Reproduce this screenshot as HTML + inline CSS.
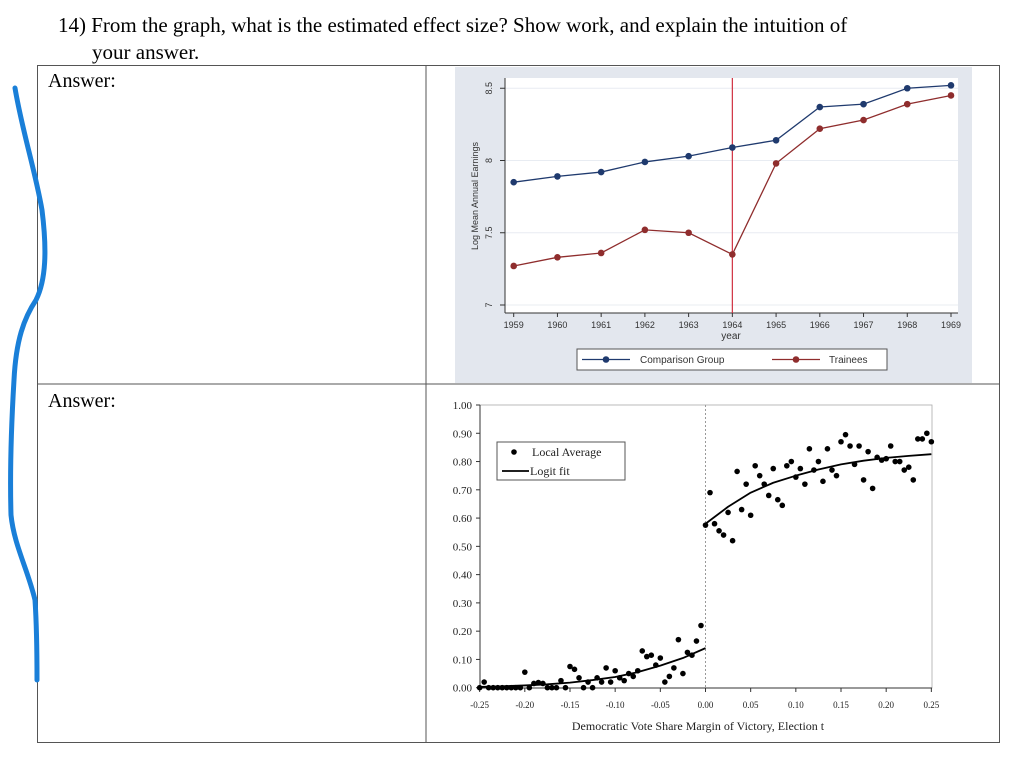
<!DOCTYPE html>
<html><head><meta charset="utf-8"><style>
body{margin:0;background:#fff;width:1024px;height:761px;overflow:hidden;font-family:"Liberation Serif",serif}
svg{position:absolute;left:0;top:0}
</style></head><body>
<svg width="1024" height="761" xmlns="http://www.w3.org/2000/svg">
<text x="58" y="32" font-size="21" font-family="Liberation Serif">14) From the graph, what is the estimated effect size? Show work, and explain the intuition of</text>
<text x="92" y="59" font-size="21" font-family="Liberation Serif">your answer.</text>
<g stroke="#555" stroke-width="1" fill="none">
<rect x="37.5" y="65.5" width="962" height="677"/>
<line x1="426" y1="65" x2="426" y2="743"/>
<line x1="37" y1="384" x2="1000" y2="384"/>
</g>
<text x="48" y="87" font-size="20">Answer:</text>
<text x="48" y="407" font-size="20">Answer:</text>
<path d="M15,88 C22,130 35,170 42,210 C47,250 46,280 36,300 C24,318 16,340 14,380 C11,430 10,480 11,515 C14,545 28,570 35,600 C37,630 37,660 37,680" stroke="#1a7fd8" stroke-width="5" fill="none" stroke-linecap="round"/>
<rect x="455" y="67" width="517" height="316" fill="#e3e7ee"/>
<rect x="505" y="78" width="453" height="235" fill="#fff"/>
<g id="top" font-family="Liberation Sans"></g>
<g id="bot" font-family="Liberation Serif"></g>
</svg>
<script>
const years=[1959,1960,1961,1962,1963,1964,1965,1966,1967,1968,1969];
const comparison=[7.85,7.89,7.92,7.99,8.03,8.09,8.14,8.37,8.39,8.50,8.52];
const trainees=[7.27,7.33,7.36,7.52,7.50,7.35,7.98,8.22,8.28,8.39,8.45];
const topTicks=[7,7.5,8,8.5];
const topTickLabels=["7","7.5","8","8.5"];

const lvX=[-0.25,-0.245,-0.24,-0.235,-0.23,-0.225,-0.22,-0.215,-0.21,-0.205,-0.2,-0.195,-0.19,-0.185,-0.18,-0.175,-0.17,-0.165,-0.16,-0.155,-0.15,-0.145,-0.14,-0.135,-0.13,-0.125,-0.12,-0.115,-0.11,-0.105,-0.1,-0.095,-0.09,-0.085,-0.08,-0.075,-0.07,-0.065,-0.06,-0.055,-0.05,-0.045,-0.04,-0.035,-0.03,-0.025,-0.02,-0.015,-0.01,-0.005,0,0.005,0.01,0.015,0.02,0.025,0.03,0.035,0.04,0.045,0.05,0.055,0.06,0.065,0.07,0.075,0.08,0.085,0.09,0.095,0.1,0.105,0.11,0.115,0.12,0.125,0.13,0.135,0.14,0.145,0.15,0.155,0.16,0.165,0.17,0.175,0.18,0.185,0.19,0.195,0.2,0.205,0.21,0.215,0.22,0.225,0.23,0.235,0.24,0.245,0.25];
const lvY=[0,0.02,0,0,0,0,0,0,0,0,0.055,0,0.015,0.018,0.015,0,0,0,0.025,0,0.075,0.065,0.035,0,0.02,0,0.035,0.02,0.07,0.02,0.06,0.035,0.025,0.05,0.04,0.06,0.13,0.11,0.115,0.08,0.105,0.02,0.04,0.07,0.17,0.05,0.125,0.115,0.165,0.22,0.575,0.69,0.58,0.555,0.54,0.62,0.52,0.765,0.63,0.72,0.61,0.785,0.75,0.72,0.68,0.775,0.665,0.645,0.785,0.8,0.745,0.775,0.72,0.845,0.77,0.8,0.73,0.845,0.77,0.75,0.87,0.895,0.855,0.79,0.855,0.735,0.835,0.705,0.815,0.805,0.81,0.855,0.8,0.8,0.77,0.78,0.735,0.88,0.88,0.9,0.87];
const fitLeftX=[-0.25,-0.225,-0.2,-0.175,-0.15,-0.125,-0.1,-0.075,-0.05,-0.025,0];
const fitLeftY=[0.003,0.005,0.008,0.012,0.018,0.027,0.038,0.055,0.078,0.105,0.14];
const fitRightX=[0,0.025,0.05,0.075,0.1,0.125,0.15,0.175,0.2,0.225,0.25];
const fitRightY=[0.58,0.64,0.69,0.725,0.75,0.772,0.79,0.803,0.813,0.82,0.826];
const botYTicks=[0,0.1,0.2,0.3,0.4,0.5,0.6,0.7,0.8,0.9,1.0];
const botXTicks=[-0.25,-0.2,-0.15,-0.1,-0.05,0,0.05,0.1,0.15,0.2,0.25];

const NS="http://www.w3.org/2000/svg";
function mk(parent,tag,attrs,text){const e=document.createElementNS(NS,tag);for(const k in attrs)e.setAttribute(k,attrs[k]);if(text!==undefined)e.textContent=text;parent.appendChild(e);return e;}

// top chart
const topG=document.getElementById('top');
const tx=y=>513.7+(y-1959)*43.73;
const ty=v=>305-(v-7)*144.5;
topTicks.forEach((t,i)=>{
  const g=mk(topG,'line',{x1:505,x2:958,y1:ty(t),y2:ty(t),stroke:'#e8ecf2','stroke-width':1});
  
  
  const tk=mk(topG,'line',{x1:500,x2:505,y1:ty(t),y2:ty(t),stroke:'#333'});
  
  
  const l=mk(topG,'text',{x:0,y:0,'font-size':9,'text-anchor':'middle',fill:'#333',transform:`translate(492,${ty(t)}) rotate(-90)`},topTickLabels[i]);
  
  
});
mk(topG,'line',{x1:505,x2:505,y1:78,y2:313,stroke:'#333'});
mk(topG,'line',{x1:505,x2:958,y1:313,y2:313,stroke:'#333'});
const yt=mk(topG,'text',{'font-size':9,'text-anchor':'middle',fill:'#333',transform:'translate(478,196) rotate(-90)'},'Log Mean Annual Earnings');


years.forEach(y=>{
  mk(topG,'line',{x1:tx(y),x2:tx(y),y1:313,y2:317,stroke:'#333'});
  const l=mk(topG,'text',{x:tx(y),y:328,'font-size':9,'text-anchor':'middle',fill:'#333'},String(y));
  
  
});
const xt=mk(topG,'text',{x:731,y:339,'font-size':10,'text-anchor':'middle',fill:'#333'},'year');


const vl=mk(topG,'line',{x1:tx(1964),x2:tx(1964),y1:78,y2:313,stroke:'#d03040','stroke-width':1.2});


function series(vals,color,name){
  const p=mk(topG,'polyline',{points:vals.map((v,i)=>tx(years[i])+','+ty(v)).join(' '),fill:'none',stroke:color,'stroke-width':1.3});
  
  
  vals.forEach((v,i)=>{const c=mk(topG,'circle',{cx:tx(years[i]),cy:ty(v),r:3.3,fill:color});
    
    });
}
series(comparison,'#1f3a6e','comparison');
series(trainees,'#8f2d2d','trainees');
const lg=mk(topG,'rect',{x:577,y:349,width:310,height:21,fill:'#fff',stroke:'#555'});


mk(topG,'line',{x1:582,x2:630,y1:359.5,y2:359.5,stroke:'#1f3a6e','stroke-width':1.3});
mk(topG,'circle',{cx:606,cy:359.5,r:3.3,fill:'#1f3a6e'});
const l1=mk(topG,'text',{x:640,y:363,'font-size':10,fill:'#333'},'Comparison Group');


mk(topG,'line',{x1:772,x2:820,y1:359.5,y2:359.5,stroke:'#8f2d2d','stroke-width':1.3});
mk(topG,'circle',{cx:796,cy:359.5,r:3.3,fill:'#8f2d2d'});
const l2=mk(topG,'text',{x:829,y:363,'font-size':10,fill:'#333'},'Trainees');



// bottom chart
const botG=document.getElementById('bot');
const bx=v=>705.5+v*903.4;
const by=v=>687.7-v*282.7;
mk(botG,'rect',{x:480,y:405,width:452,height:283,fill:'none',stroke:'#aaa','stroke-width':0.8});
mk(botG,'line',{x1:480,x2:480,y1:405,y2:688,stroke:'#333'});
mk(botG,'line',{x1:480,x2:932,y1:688,y2:688,stroke:'#333'});
botYTicks.forEach(t=>{
  mk(botG,'line',{x1:476,x2:480,y1:by(t),y2:by(t),stroke:'#333'});
  const l=mk(botG,'text',{x:472,y:by(t)+4,'font-size':11,'text-anchor':'end',fill:'#222'},t.toFixed(2));
  
  
});
botXTicks.forEach(t=>{
  mk(botG,'line',{x1:bx(t),x2:bx(t),y1:688,y2:692,stroke:'#333'});
  const l=mk(botG,'text',{x:bx(t),y:708,'font-size':9,'text-anchor':'middle',fill:'#222'},t.toFixed(2));
  
  
});
const bxt=mk(botG,'text',{x:698,y:730,'font-size':12,'text-anchor':'middle',fill:'#222'},'Democratic Vote Share Margin of Victory, Election t');


const cut=mk(botG,'line',{x1:bx(0),x2:bx(0),y1:405,y2:688,stroke:'#999','stroke-dasharray':'2,2'});


lvX.forEach((x,i)=>{const c=mk(botG,'circle',{cx:bx(x),cy:by(lvY[i]),r:2.8,fill:'#000'});
  
  });
function fit(xs,ys,name){
  let d='M'+bx(xs[0])+','+by(ys[0]);
  for(let i=1;i<xs.length;i++)d+=' L'+bx(xs[i])+','+by(ys[i]);
  const p=mk(botG,'path',{d:d,fill:'none',stroke:'#000','stroke-width':1.8,'stroke-linejoin':'round'});
  
  
}
fit(fitLeftX,fitLeftY,'logit-fit-left');
fit(fitRightX,fitRightY,'logit-fit-right');
const bl=mk(botG,'rect',{x:497,y:442,width:128,height:38,fill:'#fff',stroke:'#555'});


mk(botG,'circle',{cx:514,cy:452,r:2.8,fill:'#000'});
const b1=mk(botG,'text',{x:532,y:456,'font-size':12,fill:'#222'},'Local Average');


mk(botG,'line',{x1:502,x2:529,y1:471,y2:471,stroke:'#000','stroke-width':1.8});
const b2=mk(botG,'text',{x:530,y:475,'font-size':12,fill:'#222'},'Logit fit');


</script>
</body></html>
